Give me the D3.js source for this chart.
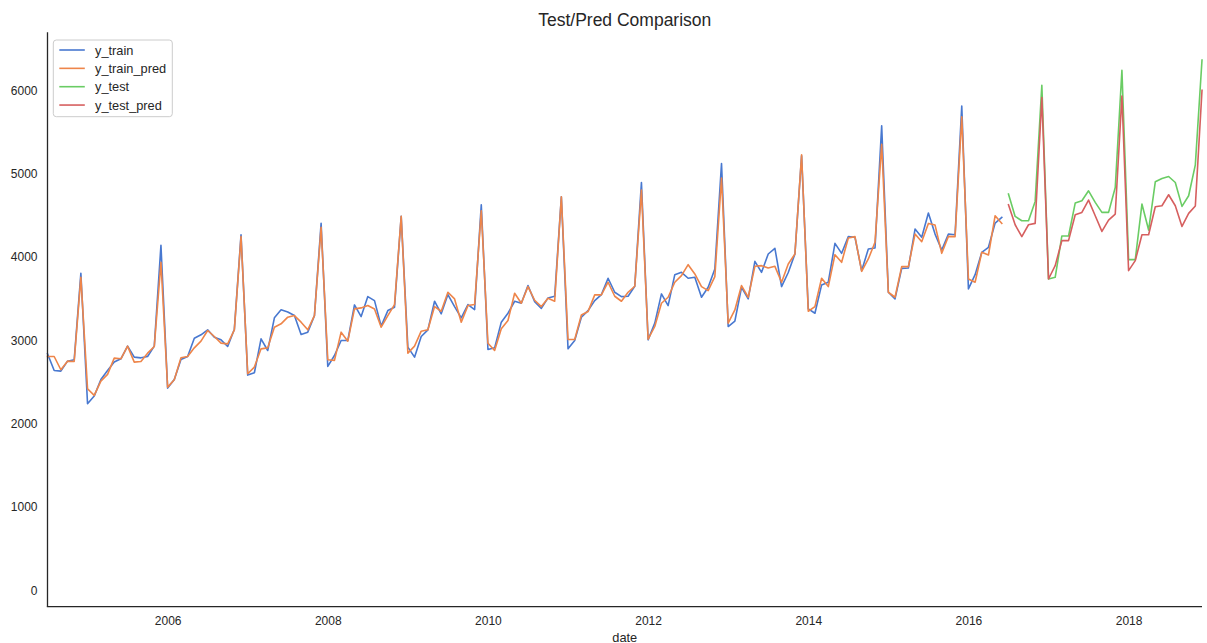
<!DOCTYPE html>
<html>
<head>
<meta charset="utf-8">
<script src="https://cdn.jsdelivr.net/npm/d3@7"></script>
<style>
  html, body { margin: 0; padding: 0; background: #ffffff; }
  svg { display: block; font-family: "Liberation Sans", Arial, sans-serif; }
</style>
</head>
<body>
<svg id="chart" width="1207" height="643"></svg>
<script>
// ---------------- data ----------------
const startMonth = "2004-07-01";     // first observation (monthly series)
const trainLength = 144;             // 2004-07 .. 2016-06
const testLength = 30;               // 2016-07 .. 2018-12

const yTrain = [
  2835, 2635, 2627, 2746, 2763, 3800, 2236, 2327, 2527, 2635, 2735, 2775,
  2926, 2794, 2786, 2802, 2926, 4136, 2423, 2527, 2766, 2802, 3022, 3062,
  3122, 3034, 3002, 2922, 3130, 4263, 2579, 2607, 3014, 2874, 3266, 3362,
  3335, 3293, 3066, 3094, 3293, 4399, 2683, 2814, 2994, 2994, 3421, 3281,
  3521, 3473, 3166, 3353, 3393, 4483, 2914, 2794, 3042, 3122, 3465, 3314,
  3545, 3401, 3266, 3425, 3365, 4623, 2886, 2906, 3214, 3321, 3465, 3441,
  3653, 3460, 3380, 3505, 3525, 4719, 2894, 2994, 3273, 3353, 3473, 3545,
  3741, 3573, 3521, 3525, 3645, 4890, 3002, 3202, 3553, 3413, 3784, 3812,
  3741, 3753, 3513, 3633, 3852, 5118, 3162, 3226, 3633, 3493, 3944, 3812,
  4032, 4100, 3641, 3810, 4032, 5210, 3373, 3321, 3661, 3693, 4160, 4040,
  4240, 4232, 3832, 4092, 4104, 5569, 3573, 3493, 3860, 3864, 4331, 4232,
  4523, 4271, 4080, 4271, 4263, 5808, 3613, 3784, 4052, 4112, 4403, 4471
];
const yTrainPred = [
  2802, 2802, 2643, 2746, 2742, 3752, 2415, 2335, 2507, 2587, 2782, 2775,
  2926, 2735, 2742, 2842, 2922, 3932, 2435, 2523, 2786, 2802, 2906, 2986,
  3114, 3042, 2962, 2954, 3122, 4240, 2595, 2675, 2894, 2906, 3154, 3194,
  3274, 3293, 3214, 3122, 3293, 4351, 2763, 2755, 3094, 2986, 3373, 3385,
  3413, 3373, 3154, 3293, 3425, 4483, 2842, 2926, 3106, 3122, 3401, 3345,
  3573, 3493, 3214, 3413, 3425, 4551, 2962, 2874, 3134, 3234, 3561, 3441,
  3641, 3477, 3401, 3501, 3465, 4719, 3006, 3006, 3301, 3341, 3541, 3541,
  3693, 3525, 3465, 3573, 3645, 4798, 3010, 3162, 3441, 3513, 3693, 3772,
  3904, 3792, 3641, 3593, 3760, 4942, 3202, 3361, 3653, 3513, 3884, 3892,
  3864, 3884, 3693, 3912, 4032, 5222, 3345, 3401, 3741, 3641, 4024, 3932,
  4224, 4240, 3824, 3972, 4172, 5349, 3573, 3513, 3880, 3880, 4271, 4180,
  4399, 4379, 4040, 4243, 4240, 5677, 3733, 3693, 4052, 4020, 4491, 4399
];
const yTest = [
  4751, 4483, 4431, 4431, 4663, 6056, 3732, 3752, 4248, 4248, 4643, 4671,
  4790, 4651, 4531, 4531, 4830, 6236, 3964, 3964, 4631, 4319, 4898, 4938,
  4962, 4890, 4603, 4731, 5102, 6359
];
const yTestPred = [
  4623, 4383, 4240, 4383, 4399, 5908, 3732, 3892, 4192, 4192, 4503, 4531,
  4679, 4491, 4303, 4439, 4511, 5928, 3832, 3952, 4263, 4263, 4599, 4611,
  4743, 4611, 4363, 4519, 4607, 5996
];

const seriesNames = ["y_train", "y_train_pred", "y_test", "y_test_pred"];
const seriesColors = ["#4878d0", "#ee854a", "#6acc64", "#d65f5f"];
const xTickYears = [2006, 2008, 2010, 2012, 2014, 2016, 2018];
const yTickValues = [0, 1000, 2000, 3000, 4000, 5000, 6000];
const titleText = "Test/Pred Comparison";
const xLabelText = "date";

// ---------------- layout ----------------
const plot = { left: 47.5, right: 1202, top: 32.3, bottom: 606.7 };
const yDomain = [-200, 6692];
const textColor = "#262626";
const tickFont = "12px";

const svg = d3.select("#chart");

// months since start (pandas period-style axis: each month equal width)
const start = new Date(startMonth + "T00:00:00");
const nMonths = trainLength + testLength;
const monthIndex = d => (d.getFullYear() - start.getFullYear()) * 12 + (d.getMonth() - start.getMonth());

const x = d3.scaleLinear().domain([0, nMonths - 1]).range([plot.left, plot.right]);
const y = d3.scaleLinear().domain(yDomain).range([plot.bottom, plot.top]);

const trainData = yTrain.map((v, i) => ({ i, v }));
const trainPredData = yTrainPred.map((v, i) => ({ i, v }));
const testData = yTest.map((v, i) => ({ i: i + trainLength, v }));
const testPredData = yTestPred.map((v, i) => ({ i: i + trainLength, v }));
const allSeries = [trainData, trainPredData, testData, testPredData];

const line = d3.line().x(d => x(d.i)).y(d => y(d.v));

// ---------------- lines ----------------
const gLines = svg.append("g");
allSeries.forEach((s, k) => {
  gLines.append("path")
    .datum(s)
    .attr("d", line)
    .attr("fill", "none")
    .attr("stroke", seriesColors[k])
    .attr("stroke-width", 1.6)
    .attr("stroke-linejoin", "round")
    .attr("stroke-linecap", "square");
});

// ---------------- axes ----------------
const xTickIdx = xTickYears.map(yr => monthIndex(new Date(yr, 0, 1)));
const xAxis = d3.axisBottom(x)
  .tickValues(xTickIdx)
  .tickFormat((d, i) => String(xTickYears[i]))
  .tickSize(0)
  .tickPadding(0);
const gx = svg.append("g").attr("transform", `translate(0,${plot.bottom})`).call(xAxis);
gx.select(".domain").remove();
gx.selectAll("text")
  .attr("y", 18.3)
  .attr("dy", null)
  .attr("fill", textColor)
  .style("font-size", tickFont)
  .style("font-family", "'Liberation Sans', Arial, sans-serif");

const yAxis = d3.axisLeft(y)
  .tickValues(yTickValues)
  .tickFormat(d3.format("d"))
  .tickSize(0)
  .tickPadding(10);
const gy = svg.append("g").attr("transform", `translate(${plot.left},0)`).call(yAxis);
gy.select(".domain").remove();
gy.selectAll("text")
  .attr("fill", textColor)
  .attr("dy", "0.35em")
  .style("font-size", tickFont)
  .style("font-family", "'Liberation Sans', Arial, sans-serif");

// spines (left & bottom only)
svg.append("line")
  .attr("x1", plot.left).attr("x2", plot.left)
  .attr("y1", plot.top).attr("y2", plot.bottom)
  .attr("stroke", textColor).attr("stroke-width", 1.3);
svg.append("line")
  .attr("x1", plot.left - 0.65).attr("x2", plot.right)
  .attr("y1", plot.bottom).attr("y2", plot.bottom)
  .attr("stroke", textColor).attr("stroke-width", 1.3);

// ---------------- title & labels ----------------
svg.append("text")
  .attr("x", (plot.left + plot.right) / 2)
  .attr("y", 26)
  .attr("text-anchor", "middle")
  .attr("fill", textColor)
  .style("font-size", "17.5px")
  .text(titleText);

svg.append("text")
  .attr("x", (plot.left + plot.right) / 2)
  .attr("y", 641.5)
  .attr("text-anchor", "middle")
  .attr("fill", textColor)
  .style("font-size", "12.8px")
  .text(xLabelText);

// ---------------- legend ----------------
const legend = svg.append("g").attr("transform", "translate(53.3,40)");
legend.append("rect")
  .attr("x", 0).attr("y", 0)
  .attr("width", 119).attr("height", 76.7)
  .attr("rx", 3).attr("ry", 3)
  .attr("fill", "#ffffff").attr("fill-opacity", 0.8)
  .attr("stroke", "#cccccc").attr("stroke-width", 1);
seriesNames.forEach((name, k) => {
  const cy = 10 + k * 18.35;
  legend.append("line")
    .attr("x1", 6).attr("x2", 31.5)
    .attr("y1", cy).attr("y2", cy)
    .attr("stroke", seriesColors[k])
    .attr("stroke-width", 1.6);
  legend.append("text")
    .attr("x", 41.7)
    .attr("y", cy + 4.6)
    .attr("fill", textColor)
    .style("font-size", "12.8px")
    .text(name);
});
</script>
</body>
</html>
